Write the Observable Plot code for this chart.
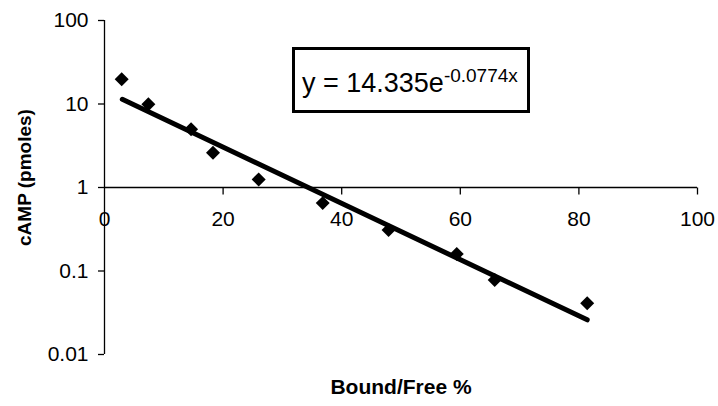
<!DOCTYPE html>
<html>
<head>
<meta charset="utf-8">
<script src="https://cdn.jsdelivr.net/npm/d3@7"></script>
<script src="https://cdn.jsdelivr.net/npm/@observablehq/plot@0.6"></script>
<style>
  html, body { margin: 0; padding: 0; background: #fff; }
  #wrap { position: relative; width: 718px; height: 406px; font-family: "Liberation Sans", Arial, sans-serif; }
  #eq {
    position: absolute; left: 292px; top: 47px; width: 232px; height: 60px;
    border: 3px solid #000; background: #fff; box-sizing: content-box;
    font-size: 27px; line-height: 66px; color: #000; white-space: nowrap;
  }
  #eq span.t { margin-left: 7px; }
  #eq sup { font-size: 19px; position: relative; top: -10px; vertical-align: baseline; }
</style>
</head>
<body>
<div id="wrap"></div>
<script>
// Data
const boundFree = [2.9, 7.4, 14.6, 18.3, 26, 36.8, 47.9, 59.4, 65.8, 81.4];
const camp      = [19.8, 9.9, 5.0, 2.6, 1.25, 0.65, 0.31, 0.16, 0.078, 0.041];
// Exponential trendline end points (straight on the log axis)
const trendX = [3, 81.4];
const trendY = [11.4, 0.026];
const xTicks = [0, 20, 40, 60, 80, 100];
const yTicks = [0.01, 0.1, 1, 10, 100];
const equationText = "y = 14.335e";
const equationExp = "-0.0774x";
const xLabel = "Bound/Free %";
const yLabel = "cAMP (pmoles)";

const points = boundFree.map((x, i) => ({x, y: camp[i]}));
const trend = trendX.map((x, i) => ({x, y: trendY[i]}));

const tickDown = {draw(ctx) { ctx.moveTo(0, 0); ctx.lineTo(0, 7); }};

const chart = Plot.plot({
  width: 718,
  height: 406,
  marginLeft: 104,
  marginRight: 21,
  marginTop: 20,
  marginBottom: 52,
  style: {fontFamily: '"Liberation Sans", Arial, sans-serif', color: "#000", background: "#fff"},
  x: {domain: [0, 100], axis: null},
  y: {type: "log", domain: [0.01, 100], axis: null},
  marks: [
    Plot.ruleX([0], {stroke: "#000", strokeWidth: 1.3}),
    Plot.ruleY([1], {stroke: "#000", strokeWidth: 1.3}),
    Plot.axisY({ticks: yTicks, tickFormat: d => String(d), tickSize: 6, tickPadding: 10, fontSize: 21, label: null, stroke: "#000", strokeWidth: 1.3}),
    Plot.dot(xTicks.slice(1), {x: d => d, y: () => 1, symbol: tickDown, stroke: "#000", strokeWidth: 1.3, fill: "none", r: 3}),
    Plot.text(xTicks, {x: d => d, y: () => 1, text: d => String(d), dy: 32, fontSize: 21, fill: "#000"}),
    Plot.line(trend, {x: "x", y: "y", stroke: "#000", strokeWidth: 5, strokeLinecap: "round"}),
    Plot.dot(points, {x: "x", y: "y", symbol: "diamond2", r: 6.3, fill: "#000", stroke: "none"}),
    Plot.text([xLabel], {frameAnchor: "bottom", text: d => d, dy: 39, fontSize: 21, fontWeight: "bold", fill: "#000"}),
    Plot.text([yLabel], {frameAnchor: "left", textAnchor: "middle", text: d => d, rotate: -90, dx: -80, dy: -10, fontSize: 19, fontWeight: "bold", fill: "#000"})
  ]
});

const wrap = document.getElementById("wrap");
wrap.appendChild(chart);
const eq = document.createElement("div");
eq.id = "eq";
const t = document.createElement("span");
t.className = "t";
t.textContent = equationText;
const s = document.createElement("sup");
s.textContent = equationExp;
t.appendChild(s);
eq.appendChild(t);
wrap.appendChild(eq);
</script>
</body>
</html>
